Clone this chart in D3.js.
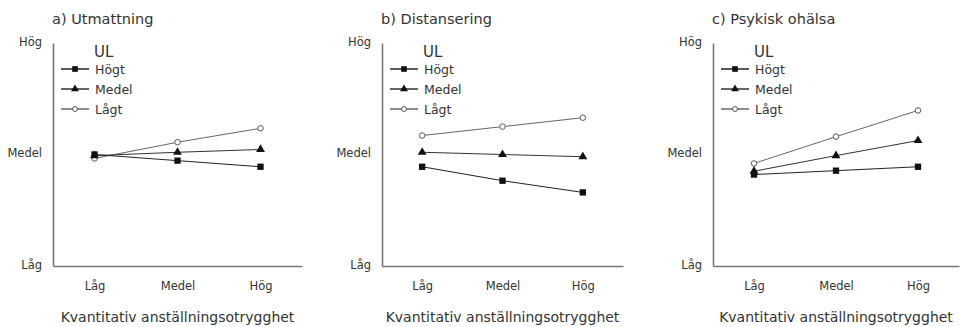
<!DOCTYPE html>
<html>
<head>
<meta charset="utf-8">
<script src="https://cdn.jsdelivr.net/npm/d3@7"></script>
<style>
    body { margin: 0; background: #fff; }
    text { font-family: "DejaVu Sans", sans-serif; fill: #333; }
</style>
</head>
<body>
<svg id="chart" width="964" height="327"></svg>
<script>
// categories on the x axis (kvantitativ anställningsotrygghet)
var categories = ["Låg", "Medel", "Hög"];
// y axis: 1 = Låg, 3 = Medel, 5 = Hög
var yTicks = [1, 3, 5];
var yTickLabels = ["Låg", "Medel", "Hög"];
var seriesNames = ["Högt", "Medel", "Lågt"];

var titles = ["a) Utmattning", "b) Distansering", "c) Psykisk ohälsa"];

// values per panel, one array per UL group
var utmattningHogt = [3.00, 2.89, 2.78];
var utmattningMedel = [2.98, 3.04, 3.09];
var utmattningLagt = [2.93, 3.22, 3.47];

var distanseringHogt = [2.78, 2.53, 2.32];
var distanseringMedel = [3.04, 3.00, 2.96];
var distanseringLagt = [3.34, 3.50, 3.66];

var ohalsaHogt = [2.64, 2.71, 2.78];
var ohalsaMedel = [2.70, 2.98, 3.25];
var ohalsaLagt = [2.84, 3.32, 3.79];

var panelData = [
    [utmattningHogt, utmattningMedel, utmattningLagt],
    [distanseringHogt, distanseringMedel, distanseringLagt],
    [ohalsaHogt, ohalsaMedel, ohalsaLagt]
];

var svg = d3.select("#chart");

// left edge of each plot (where the y axis sits) and right end of the x axis
var plotLeft = [53, 382, 713],
    plotRight = [302, 623, 959],
    plotTop = 43,
    plotBottom = 266;

var y = d3.scaleLinear().domain([1, 5]).range([plotBottom, plotTop]);

var lineColor = ["#222", "#333", "#666"];

var symbols = [d3.symbolSquare, d3.symbolTriangle, d3.symbolCircle];
var symbolSize = [40, 34, 24];

titles.forEach(function (title, p) {
    var x = d3.scalePoint()
        .domain(categories)
        .range([plotLeft[p], plotRight[p]])
        .padding(0.5);

    var g = svg.append("g");

    // y axis
    var yAxis = g.append("g")
        .attr("transform", "translate(" + plotLeft[p] + ",0)")
        .call(d3.axisLeft(y)
            .tickValues(yTicks)
            .tickSize(0)
            .tickPadding(11)
            .tickFormat(function (d, i) { return yTickLabels[i]; }));

    // x axis
    var xAxis = g.append("g")
        .attr("transform", "translate(0," + plotBottom + ")")
        .call(d3.axisBottom(x).tickSize(0).tickPadding(16));

    [yAxis, xAxis].forEach(function (ax) {
        ax.select(".domain").attr("stroke", "#777").attr("stroke-width", 1.6);
        ax.selectAll("text")
            .attr("fill", "#555")
            .style("font-size", "11.5px")
            .style("font-family", "DejaVu Sans, sans-serif");
    });
    yAxis.selectAll("text").attr("dy", "0.2em");

    // panel title
    g.append("text")
        .attr("x", plotLeft[p] - 1)
        .attr("y", 24)
        .style("font-size", "14.5px")
        .text(title);

    // x axis title
    g.append("text")
        .attr("x", x("Medel"))
        .attr("y", 322)
        .attr("text-anchor", "middle")
        .style("font-size", "14px")
        .text("Kvantitativ anställningsotrygghet");

    // lines and markers, drawn Lågt first so Högt sits on top
    var line = d3.line()
        .x(function (d, i) { return x(categories[i]); })
        .y(function (d) { return y(d); });

    [2, 1, 0].forEach(function (s) {
        var vals = panelData[p][s];
        g.append("path")
            .datum(vals)
            .attr("fill", "none")
            .attr("stroke", lineColor[s])
            .attr("stroke-width", 1)
            .attr("d", line);

        g.selectAll(".pt" + s)
            .data(vals)
            .enter().append("path")
            .attr("class", "pt" + s)
            .attr("transform", function (d, i) {
                return "translate(" + x(categories[i]) + "," + y(d) + ")";
            })
            .attr("d", d3.symbol().type(symbols[s]).size(symbolSize[s]))
            .attr("fill", s === 2 ? "#fff" : "#111")
            .attr("stroke", s === 2 ? "#555" : "none")
            .attr("stroke-width", 1);
    });

    // legend
    var lx = plotLeft[p] + 8;
    g.append("text")
        .attr("x", lx + 33)
        .attr("y", 57)
        .style("font-size", "15px")
        .text("UL");

    seriesNames.forEach(function (name, s) {
        var ly = 69 + s * 20;
        g.append("line")
            .attr("x1", lx).attr("x2", lx + 28)
            .attr("y1", ly).attr("y2", ly)
            .attr("stroke", lineColor[s])
            .attr("stroke-width", 1.5);
        g.append("path")
            .attr("transform", "translate(" + (lx + 14) + "," + ly + ")")
            .attr("d", d3.symbol().type(symbols[s]).size(symbolSize[s] * 0.8))
            .attr("fill", s === 2 ? "#fff" : "#111")
            .attr("stroke", s === 2 ? "#555" : "none");
        g.append("text")
            .attr("x", lx + 34)
            .attr("y", ly + 4.5)
            .style("font-size", "12.5px")
            .text(name);
    });
});
</script>
</body>
</html>
